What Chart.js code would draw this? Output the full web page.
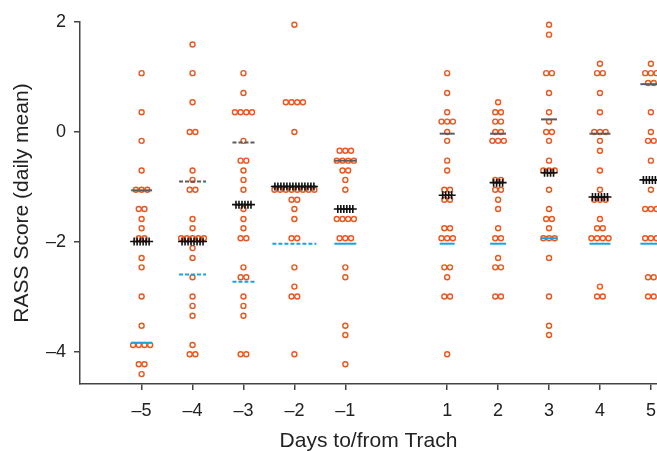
<!DOCTYPE html>
<html>
<head>
<meta charset="utf-8">
<script src="https://cdn.jsdelivr.net/npm/chart.js@4.4.1/dist/chart.umd.min.js"></script>
<style>
  html, body { margin: 0; padding: 0; background: #fff; }
  #wrap { width: 657px; height: 451px; }
</style>
</head>
<body>
<div id="wrap"><canvas id="rassChart" width="657" height="451"></canvas></div>
<script>
// days relative to the trach (there is no day 0)
const days = [-5, -4, -3, -2, -1, 1, 2, 3, 4, 5]
const yTicks = [-4, -2, 0, 2]

// daily mean RASS per patient, one list per day
const dayM5 = [1.07, 0.36, -0.16, -0.70, -1.05, -1.05, -1.05, -1.40, -1.40, -1.58, -1.75, -1.93, -1.93, -2.29, -2.46, -2.99, -3.52, -3.87, -3.87, -3.87, -3.87, -4.22, -4.22, -4.40]
const dayM4 = [1.59, 1.07, 0.54, 0, 0, -0.70, -0.87, -1.05, -1.05, -1.58, -1.75, -1.93, -1.93, -1.93, -1.93, -1.93, -2.11, -2.29, -2.64, -2.99, -3.16, -3.34, -3.87, -4.04, -4.04]
const dayM3 = [1.07, 0.71, 0.36, 0.36, 0.36, 0.36, -0.16, -0.52, -0.52, -0.70, -0.87, -1.05, -1.40, -1.58, -1.75, -1.93, -1.93, -2.46, -2.64, -2.64, -2.99, -3.16, -3.34, -4.04, -4.04]
const dayM2 = [1.95, 0.54, 0.54, 0.54, 0.54, 0, -1.05, -1.05, -1.05, -1.05, -1.05, -1.05, -1.05, -1.05, -1.23, -1.23, -1.40, -1.58, -1.93, -1.93, -2.46, -2.81, -2.99, -2.99, -4.04]
const dayM1 = [-0.34, -0.34, -0.34, -0.52, -0.52, -0.52, -0.52, -0.70, -0.70, -0.87, -1.05, -1.58, -1.58, -1.58, -1.58, -1.93, -1.93, -1.93, -2.46, -2.64, -3.52, -3.69, -4.22]
const dayP1 = [1.07, 0.71, 0.36, 0.19, 0.19, 0.19, 0, -0.16, -0.52, -0.70, -1.05, -1.05, -1.23, -1.23, -1.75, -1.75, -1.93, -1.93, -1.93, -2.46, -2.46, -2.64, -2.99, -2.99, -4.04]
const dayP2 = [0.54, 0.36, 0.36, 0.19, 0.19, 0, 0, -0.16, -0.16, -0.16, -0.87, -0.87, -1.05, -1.05, -1.23, -1.40, -1.75, -1.93, -1.93, -2.29, -2.46, -2.46, -2.99, -2.99]
const dayP3 = [1.95, 1.77, 1.07, 1.07, 0.71, 0.36, 0.19, 0, 0, -0.16, -0.52, -0.70, -0.70, -0.70, -1.05, -1.40, -1.58, -1.58, -1.75, -1.93, -1.93, -1.93, -2.29, -2.99, -3.52, -3.69]
const dayP4 = [1.24, 1.07, 1.07, 0.71, 0.36, 0, 0, 0, -0.16, -0.34, -0.70, -1.05, -1.23, -1.23, -1.23, -1.58, -1.75, -1.75, -1.93, -1.93, -1.93, -1.93, -2.81, -2.99, -2.99]
const dayP5 = [1.24, 1.07, 1.07, 1.07, 0.89, 0.89, 0.36, 0, -0.16, -0.16, -0.52, -1.05, -1.40, -1.40, -1.40, -1.93, -1.93, -1.93, -2.64, -2.64, -2.99, -2.99]
const dayScores = [dayM5, dayM4, dayM3, dayM2, dayM1, dayP1, dayP2, dayP3, dayP4, dayP5]

// summary marks per day
const upperQ = [-1.06, -0.90, -0.19, -0.99, -0.52, -0.03, -0.03, 0.23, -0.03, 0.87]
const medians = [-1.99, -1.99, -1.32, -0.99, -1.40, -1.15, -0.92, -0.74, -1.18, -0.87]
const lowerQ = [-3.83, -2.59, -2.72, -2.03, -2.03, -2.03, -2.03, -1.93, -2.03, -2.03]

// look of the summary marks (pixels / flags, not data)
const markWidthPx = [21, 27, 22, 44, 22, 15, 16, 16, 21, 21]
const dashedMark = [false, true, true, true, false, false, false, false, false, false]
const crossCount = [6, 8, 6, 14, 6, 4, 4, 4, 6, 6]

const X_MIN = -6.21, X_MAX = 5.12
const AREA_LEFT = 80, AREA_RIGHT = 657
const pxPerUnit = (AREA_RIGHT - AREA_LEFT) / (X_MAX - X_MIN)
const circleGap = 5.7 / pxPerUnit
const crossGap = 3 / pxPerUnit

const orange = '#e9581f'
const gray = '#5c5c5c'
const blue = '#1aa3de'
const ink = '#222'

// side by side placement of equal values
function swarm(day, values) {
  const groups = {}
  values.forEach(v => { (groups[v] = groups[v] || []).push(v) })
  const pts = []
  Object.keys(groups).forEach(k => {
    const n = groups[k].length
    groups[k].forEach((v, i) => pts.push({ x: day + (i - (n - 1) / 2) * circleGap, y: v }))
  })
  return pts
}

const datasets = []
days.forEach((d, i) => {
  const hw = markWidthPx[i] / 2 / pxPerUnit
  const dash = dashedMark[i] ? [4, 2] : []
  datasets.push({
    data: [{ x: d - hw, y: upperQ[i] }, { x: d + hw, y: upperQ[i] }],
    showLine: true, borderColor: gray, borderWidth: 2, borderDash: dash,
    pointRadius: 0, order: 1, clip: false
  })
  datasets.push({
    data: [{ x: d - hw, y: lowerQ[i] }, { x: d + hw, y: lowerQ[i] }],
    showLine: true, borderColor: blue, borderWidth: 2, borderDash: dash,
    pointRadius: 0, order: 1, clip: false
  })
  const n = crossCount[i]
  const crosses = []
  for (let k = 0; k < n; k++) crosses.push({ x: d + (k - (n - 1) / 2) * crossGap, y: medians[i] })
  datasets.push({
    data: crosses, pointStyle: 'cross', pointRadius: 4, borderColor: '#111',
    borderWidth: 1.6, order: 0, clip: false
  })
  datasets.push({
    data: swarm(d, dayScores[i]), pointStyle: 'circle', pointRadius: 2.5,
    borderColor: orange, backgroundColor: 'rgba(255,255,255,0)', borderWidth: 1.4,
    order: 2, clip: false
  })
})

const fontFam = '"Liberation Sans", Arial, Helvetica, sans-serif'

new Chart(document.getElementById('rassChart').getContext('2d'), {
  type: 'scatter',
  data: { datasets },
  options: {
    responsive: false,
    animation: false,
    events: [],
    layout: { autoPadding: false, padding: { top: 22, left: 0, right: 0, bottom: 0 } },
    plugins: { legend: { display: false }, tooltip: { enabled: false } },
    scales: {
      x: {
        type: 'linear',
        min: X_MIN,
        max: X_MAX,
        afterBuildTicks: scale => { scale.ticks = days.map(v => ({ value: v })) },
        afterFit: scale => {
          scale.height = 67
          scale.paddingLeft = 0
          scale.paddingRight = 0
        },
        grid: { drawOnChartArea: false, drawTicks: true, tickLength: 6, color: '#444', lineWidth: 1.5 },
        border: { display: true, color: '#444', width: 1.5 },
        ticks: {
          color: ink, padding: 10, maxRotation: 0,
          font: { family: fontFam, size: 18 },
          callback: v => (v < 0 ? '\u2013' + Math.abs(v) : String(v))
        },
        title: {
          display: true, text: 'Days to/from Trach', color: ink,
          font: { family: fontFam, size: 21 }, padding: { top: 0, bottom: -3 }
        }
      },
      y: {
        type: 'linear',
        min: -4.58,
        max: 2,
        afterBuildTicks: scale => { scale.ticks = yTicks.map(v => ({ value: v })) },
        afterFit: scale => { scale.width = 80 },
        grid: { drawOnChartArea: false, drawTicks: true, tickLength: 6, color: '#444', lineWidth: 1.5 },
        border: { display: true, color: '#444', width: 1.5 },
        ticks: {
          color: ink, padding: 8,
          font: { family: fontFam, size: 18 },
          callback: v => (v < 0 ? '\u2013' + Math.abs(v) : String(v))
        },
        title: {
          display: true, text: 'RASS Score (daily mean)', color: ink,
          font: { family: fontFam, size: 21 }, padding: { top: 10, bottom: 0 }
        }
      }
    }
  }
})
</script>
</body>
</html>
